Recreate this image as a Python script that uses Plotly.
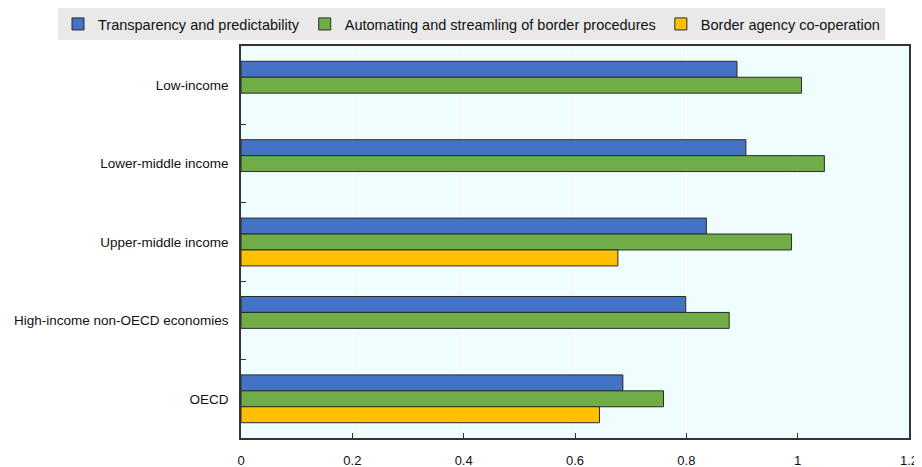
import plotly.graph_objects as go

categories = ["Low-income", "Lower-middle income", "Upper-middle income",
              "High-income non-OECD economies", "OECD"]
series_names = ["Transparency and predictability",
                "Automating and streamling of border procedures",
                "Border agency co-operation"]
transparency = [0.891, 0.907, 0.836, 0.799, 0.686]
automating = [1.007, 1.048, 0.989, 0.877, 0.759]
cooperation = [None, None, 0.677, None, 0.644]
colors = ["#4472C4", "#70AD47", "#FFC000"]
x_tickvals = [0, 0.2, 0.4, 0.6, 0.8, 1, 1.2]
x_ticktext = ["0", "0.2", "0.4", "0.6", "0.8", "1", "1.2"]

# page has an 8px body margin, so the figure is placed at (8, 8)
W, H = 914, 459
L, R, T, B = 233, 13, 38, 29
plot_h = H - T - B
plot_w = W - L - R

fig = go.Figure()
for name, vals, col in zip(series_names, [transparency, automating, cooperation], colors):
    fig.add_trace(go.Bar(
        y=categories, x=vals, name=name, orientation="h",
        marker=dict(color=col, line=dict(color="#2b2b2b", width=1)),
    ))

fig.update_layout(
    width=W, height=H,
    margin=dict(l=L, r=R, t=T, b=B, autoexpand=False),
    barmode="group", bargap=0.39, bargroupgap=0,
    plot_bgcolor="#F0FDFF", paper_bgcolor="white",
    font=dict(family="Liberation Sans, Arial, sans-serif", size=14, color="#111"),
    legend=dict(orientation="h", x=(50 - L) / plot_w, xanchor="left",
                y=1 + (T - 0) / plot_h, yanchor="top",
                bgcolor="#E9E9E9", bordercolor="#D0D0D0", borderwidth=0,
                font=dict(size=14.5), itemwidth=30, traceorder="normal"),
    showlegend=True,
)
fig.update_xaxes(range=[0, 1.2], tickvals=x_tickvals, ticktext=x_ticktext,
                 showgrid=True, gridcolor="white", gridwidth=1,
                 showline=True, linecolor="#333", linewidth=1.5, mirror=True,
                 ticks="inside", ticklen=5, tickcolor="#333",
                 tickfont=dict(size=13), zeroline=False, ticklabelstandoff=10,
                 automargin=False)
fig.update_yaxes(autorange="reversed", showline=True, linecolor="#333", linewidth=1.5,
                 mirror=True, ticks="inside", ticklen=5, tickcolor="#333",
                 tickson="boundaries", tickfont=dict(size=13.5), showgrid=False,
                 ticklabelstandoff=8, automargin=False)
fig.write_html("out.html")
